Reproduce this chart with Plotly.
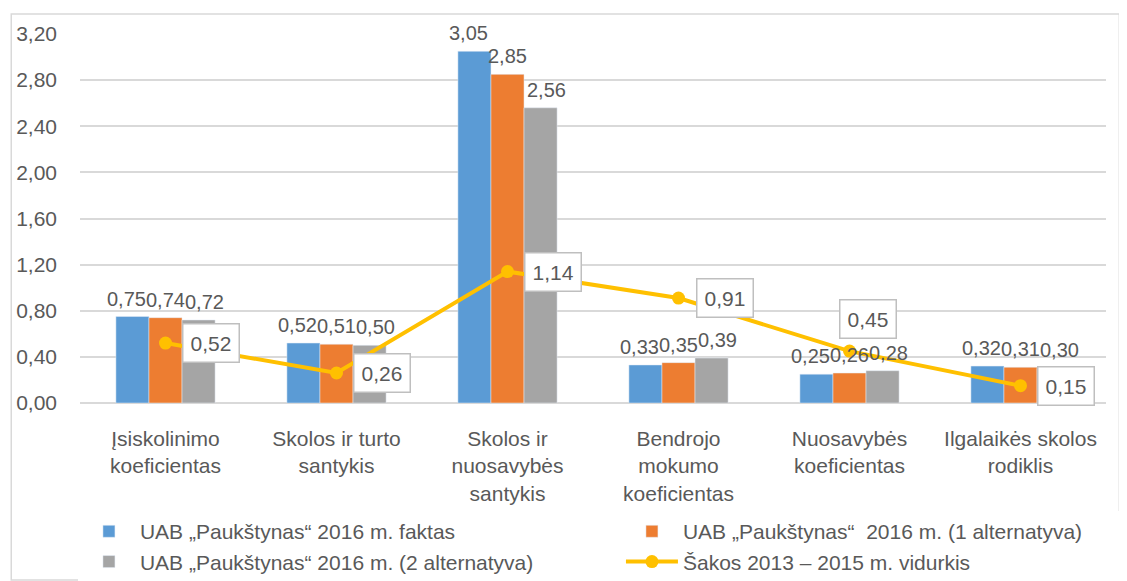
import plotly.graph_objects as go

categories = ["Įsiskolinimo<br>koeficientas", "Skolos ir turto<br>santykis", "Skolos ir<br>nuosavybės<br>santykis",
              "Bendrojo<br>mokumo<br>koeficientas", "Nuosavybės<br>koeficientas", "Ilgalaikės skolos<br>rodiklis"]
faktas = [0.75, 0.52, 3.05, 0.33, 0.25, 0.32]
alt1 = [0.74, 0.51, 2.85, 0.35, 0.26, 0.31]
alt2 = [0.72, 0.50, 2.56, 0.39, 0.28, 0.30]
sakos = [0.52, 0.26, 1.14, 0.91, 0.45, 0.15]
names = ["UAB „Paukštynas“ 2016 m. faktas", "UAB „Paukštynas“  2016 m. (1 alternatyva)",
         "UAB „Paukštynas“ 2016 m. (2 alternatyva)", "Šakos 2013 – 2015 m. vidurkis"]
# callout offsets (px) for line labels
label_dx = [45, 45, 45, 46, 18, 45]
label_dy = [0, 0, 0, 0, 32, 0]

FONT = "Liberation Sans, Arial, sans-serif"
TXT = "#595959"

def fmt(v):
    return f"{v:.2f}".replace(".", ",")

fig = go.Figure()
series = [(faktas, names[0], "#5B9BD5", -39), (alt1, names[1], "#ED7D31", 0), (alt2, names[2], "#A5A5A5", 39)]
for vals, nm, col, xs in series:
    fig.add_trace(go.Bar(x=categories, y=vals, name=nm, marker_color=col))
    for c, v in zip(categories, vals):
        fig.add_annotation(x=c, y=v, text=fmt(v), showarrow=False, xshift=xs, yshift=5,
                           yanchor="bottom", font=dict(size=20, color=TXT, family=FONT))
fig.add_trace(go.Scatter(x=categories, y=sakos, name=names[3], mode="lines+markers",
                         line=dict(color="#FFC000", width=4), marker=dict(size=13, color="#FFC000")))

for c, v, dx, dy in zip(categories, sakos, label_dx, label_dy):
    fig.add_annotation(x=c, y=v, text=fmt(v), showarrow=False,
                       xshift=dx, yshift=dy, bgcolor="white", bordercolor="#BFBFBF", borderwidth=1.5,
                       borderpad=7, font=dict(size=21, color=TXT, family=FONT))

fig.add_shape(type="rect", xref="paper", yref="paper", x0=-0.067, x1=1.013, y0=-0.48, y1=1.054,
              line=dict(color="#D9D9D9", width=1.5), fillcolor="rgba(0,0,0,0)")

fig.update_layout(
    width=1127, height=581, margin=dict(l=72, r=29, t=26, b=186, autoexpand=False),
    paper_bgcolor="white", plot_bgcolor="white", separators=", ",
    barmode="group", bargap=0.42, bargroupgap=0,
    font=dict(family=FONT, color=TXT, size=21),
    legend=dict(orientation="h", x=-0.002, y=-0.293, xanchor="left", yanchor="top",
                entrywidth=476, entrywidthmode="pixels", font=dict(size=21, color=TXT, family=FONT),
                traceorder="normal", tracegroupgap=0, itemwidth=52),
    showlegend=True,
)
fig.update_yaxes(range=[0, 3.2], dtick=0.4, tickformat=".2f", gridcolor="#D9D9D9", gridwidth=1.5,
                 zeroline=True, zerolinecolor="#D9D9D9", zerolinewidth=1.5, ticks="", tickfont=dict(size=21),
                 showline=False, ticklabelstandoff=22)
fig.update_xaxes(tickfont=dict(size=21), ticks="", showline=False, ticklabelstandoff=21)
fig.write_html("out.html")
